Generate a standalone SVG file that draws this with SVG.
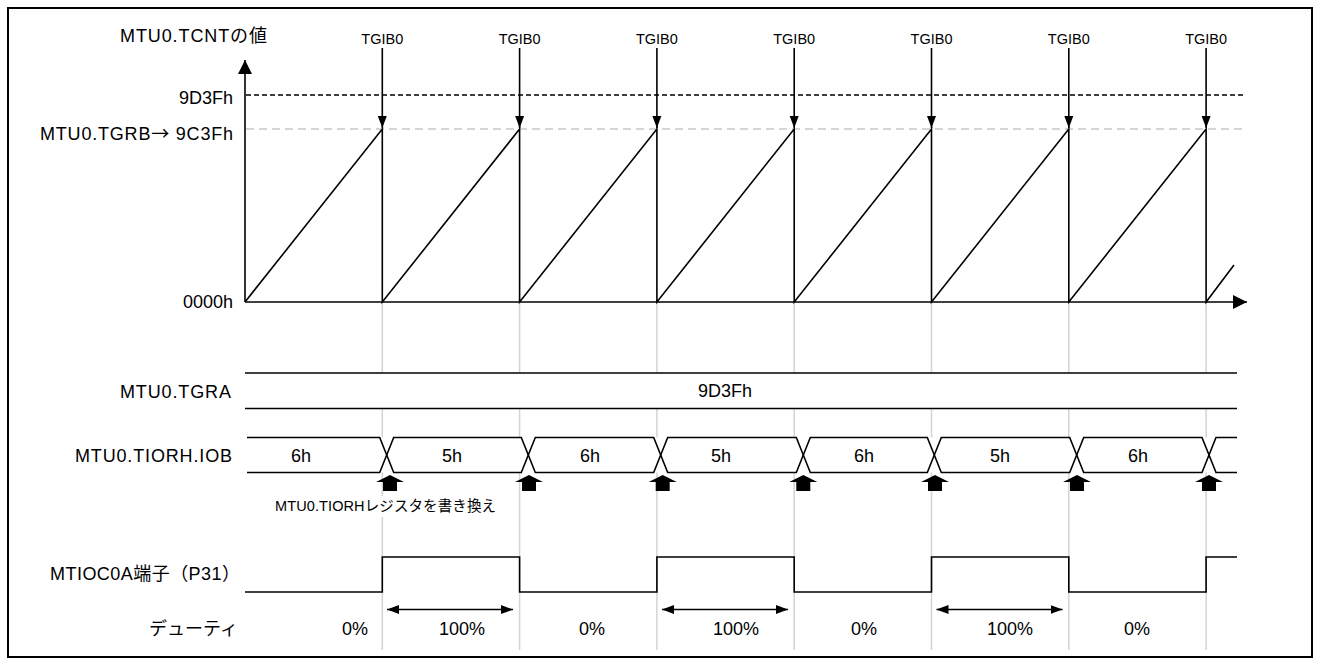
<svg xmlns="http://www.w3.org/2000/svg" xmlns:xlink="http://www.w3.org/1999/xlink" width="1320" height="665" viewBox="0 0 1320 665">
<style>
  text { font-family: "Liberation Sans", "Noto Sans CJK JP", sans-serif; fill: #000; }
  .lbl { font-size: 18px; }
  .sm { font-size: 14.5px; }
  .cjk { font-family: "Noto Sans CJK JP", "DejaVu Sans", sans-serif; }
  .ln { fill: none; stroke: #000; stroke-width: 1.6; }
  .guide { stroke: #d4d4d4; stroke-width: 1.5; fill: none; }
  .blk { fill: #000; stroke: none; }
</style>
<defs>
  <marker id="tip" markerUnits="userSpaceOnUse" markerWidth="12" markerHeight="10" refX="12" refY="5" orient="auto">
    <path d="M0,0.5 L12,5 L0,9.5 Z" fill="#000"/>
  </marker>
  <marker id="axtip" markerUnits="userSpaceOnUse" markerWidth="14" markerHeight="14" refX="14" refY="7" orient="auto">
    <path d="M0,0 L14,7 L0,14 Z" fill="#000"/>
  </marker>
  <marker id="dtip" markerUnits="userSpaceOnUse" markerWidth="12" markerHeight="10" refX="12" refY="5" orient="auto-start-reverse">
    <path d="M0,0.5 L12,5 L0,9.5 Z" fill="#000"/>
  </marker>
  <path id="blkarrow" d="M0,-8 L14,-1 L7,-1 L7,8 L-7,8 L-7,-1 L-14,-1 Z"/>
</defs>

<rect id="border" x="8" y="8" width="1304" height="649" fill="#fff" stroke="#000" stroke-width="2"/>

<g id="guides">
  <line class="guide" x1="382.3" y1="302" x2="382.3" y2="650"/>
  <line class="guide" x1="519.6" y1="302" x2="519.6" y2="650"/>
  <line class="guide" x1="656.9" y1="302" x2="656.9" y2="650"/>
  <line class="guide" x1="794.2" y1="302" x2="794.2" y2="650"/>
  <line class="guide" x1="931.5" y1="302" x2="931.5" y2="650"/>
  <line class="guide" x1="1068.8" y1="302" x2="1068.8" y2="650"/>
  <line class="guide" x1="1206.1" y1="302" x2="1206.1" y2="650"/>
</g>

<g id="levels">
  <line x1="246" y1="95" x2="1243" y2="95" stroke="#000" stroke-width="1.5" stroke-dasharray="5,3"/>
  <line x1="246" y1="129" x2="1243" y2="129" stroke="#c8c8c8" stroke-width="1.5" stroke-dasharray="8,5"/>
</g>

<g id="axes">
  <line class="ln" x1="245" y1="302" x2="245" y2="60" marker-end="url(#axtip)" stroke-width="2"/>
  <line class="ln" x1="245" y1="302" x2="1247" y2="302" marker-end="url(#axtip)" stroke-width="2"/>
</g>

<g id="tcnt-wave">
  <path class="ln" d="M245,302 L382.3,129 L382.3,302 L519.6,129 L519.6,302 L656.9,129 L656.9,302 L794.2,129 L794.2,302 L931.5,129 L931.5,302 L1068.8,129 L1068.8,302 L1206.1,129 L1206.1,302 L1234,265"/>
</g>

<g id="connectors">
  <line class="ln" x1="382.3" y1="48" x2="382.3" y2="128" marker-end="url(#tip)"/>
  <line class="ln" x1="519.6" y1="48" x2="519.6" y2="128" marker-end="url(#tip)"/>
  <line class="ln" x1="656.9" y1="48" x2="656.9" y2="128" marker-end="url(#tip)"/>
  <line class="ln" x1="794.2" y1="48" x2="794.2" y2="128" marker-end="url(#tip)"/>
  <line class="ln" x1="931.5" y1="48" x2="931.5" y2="128" marker-end="url(#tip)"/>
  <line class="ln" x1="1068.8" y1="48" x2="1068.8" y2="128" marker-end="url(#tip)"/>
  <line class="ln" x1="1206.1" y1="48" x2="1206.1" y2="128" marker-end="url(#tip)"/>
  <line class="ln" x1="387" y1="609.5" x2="513" y2="609.5" marker-start="url(#dtip)" marker-end="url(#dtip)"/>
  <line class="ln" x1="662" y1="609.5" x2="788" y2="609.5" marker-start="url(#dtip)" marker-end="url(#dtip)"/>
  <line class="ln" x1="936.5" y1="609.5" x2="1062.5" y2="609.5" marker-start="url(#dtip)" marker-end="url(#dtip)"/>
</g>

<g id="tgib0-labels" class="sm" text-anchor="middle">
  <text x="382.3" y="44">TGIB0</text>
  <text x="519.6" y="44">TGIB0</text>
  <text x="656.9" y="44">TGIB0</text>
  <text x="794.2" y="44">TGIB0</text>
  <text x="931.5" y="44">TGIB0</text>
  <text x="1068.8" y="44">TGIB0</text>
  <text x="1206.1" y="44">TGIB0</text>
</g>

<g id="axis-labels" class="lbl">
  <text x="120" y="42" textLength="147" lengthAdjust="spacing">MTU0.TCNTの値</text>
  <text x="233" y="104" text-anchor="end">9D3Fh</text>
  <text x="40" y="140" textLength="193" lengthAdjust="spacing">MTU0.TGRB<tspan class="cjk">→</tspan> 9C3Fh</text>
  <text x="233" y="308" text-anchor="end">0000h</text>
</g>

<g id="tgra">
  <rect x="245" y="373" width="992" height="35.5" fill="#fff"/>
  <line class="ln" x1="245" y1="373" x2="1237" y2="373"/>
  <line class="ln" x1="245" y1="408.5" x2="1237" y2="408.5"/>
  <text class="lbl" x="120" y="398" textLength="111" lengthAdjust="spacing">MTU0.TGRA</text>
  <text class="lbl" x="725" y="397" text-anchor="middle">9D3Fh</text>
</g>

<g id="tiorh-iob">
  <rect x="247" y="437.5" width="990" height="35" fill="#fff"/>
  <path class="ln" d="M247,437.5 H379.7 L393.7,472.5 H521.3 L535.3,437.5 H653.7 L667.7,472.5 H796.3 L810.3,437.5 H927.3 L941.3,472.5 H1069.7 L1083.7,437.5 H1202 L1216,472.5 H1237"/>
  <path class="ln" d="M247,472.5 H379.7 L393.7,437.5 H521.3 L535.3,472.5 H653.7 L667.7,437.5 H796.3 L810.3,472.5 H927.3 L941.3,437.5 H1069.7 L1083.7,472.5 H1202 L1216,437.5 H1237"/>
  <text class="lbl" x="75" y="462" textLength="157" lengthAdjust="spacing">MTU0.TIORH.IOB</text>
  <g class="lbl" text-anchor="middle">
    <text x="301" y="462">6h</text>
    <text x="452" y="462">5h</text>
    <text x="590" y="462">6h</text>
    <text x="721" y="462">5h</text>
    <text x="864" y="462">6h</text>
    <text x="1000" y="462">5h</text>
    <text x="1138" y="462">6h</text>
  </g>
</g>

<g id="rewrite">
  <use href="#blkarrow" xlink:href="#blkarrow" class="blk" x="390" y="483"/>
  <use href="#blkarrow" xlink:href="#blkarrow" class="blk" x="529" y="483"/>
  <use href="#blkarrow" xlink:href="#blkarrow" class="blk" x="662.7" y="483"/>
  <use href="#blkarrow" xlink:href="#blkarrow" class="blk" x="803.3" y="483"/>
  <use href="#blkarrow" xlink:href="#blkarrow" class="blk" x="935" y="483"/>
  <use href="#blkarrow" xlink:href="#blkarrow" class="blk" x="1077" y="483"/>
  <use href="#blkarrow" xlink:href="#blkarrow" class="blk" x="1209" y="483"/>
  <rect x="272" y="496" width="228" height="21" fill="#fff"/>
  <text class="sm" x="275" y="511" textLength="221" lengthAdjust="spacing">MTU0.TIORHレジスタを書き換え</text>
</g>

<g id="pin">
  <path class="ln" d="M245,592 H382.3 V557 H519.6 V592 H656.9 V557 H794.2 V592 H931.5 V557 H1068.8 V592 H1206.1 V557 H1237"/>
  <text class="lbl" x="50" y="580" textLength="190" lengthAdjust="spacing">MTIOC0A端子（P31）</text>
</g>

<g id="duty" class="lbl">
  <text x="238" y="635" text-anchor="end">デューティ</text>
  <g text-anchor="middle">
    <text x="355" y="635">0%</text>
    <text x="462" y="635">100%</text>
    <text x="592" y="635">0%</text>
    <text x="736" y="635">100%</text>
    <text x="864" y="635">0%</text>
    <text x="1010" y="635">100%</text>
    <text x="1137" y="635">0%</text>
  </g>
</g>
</svg>
